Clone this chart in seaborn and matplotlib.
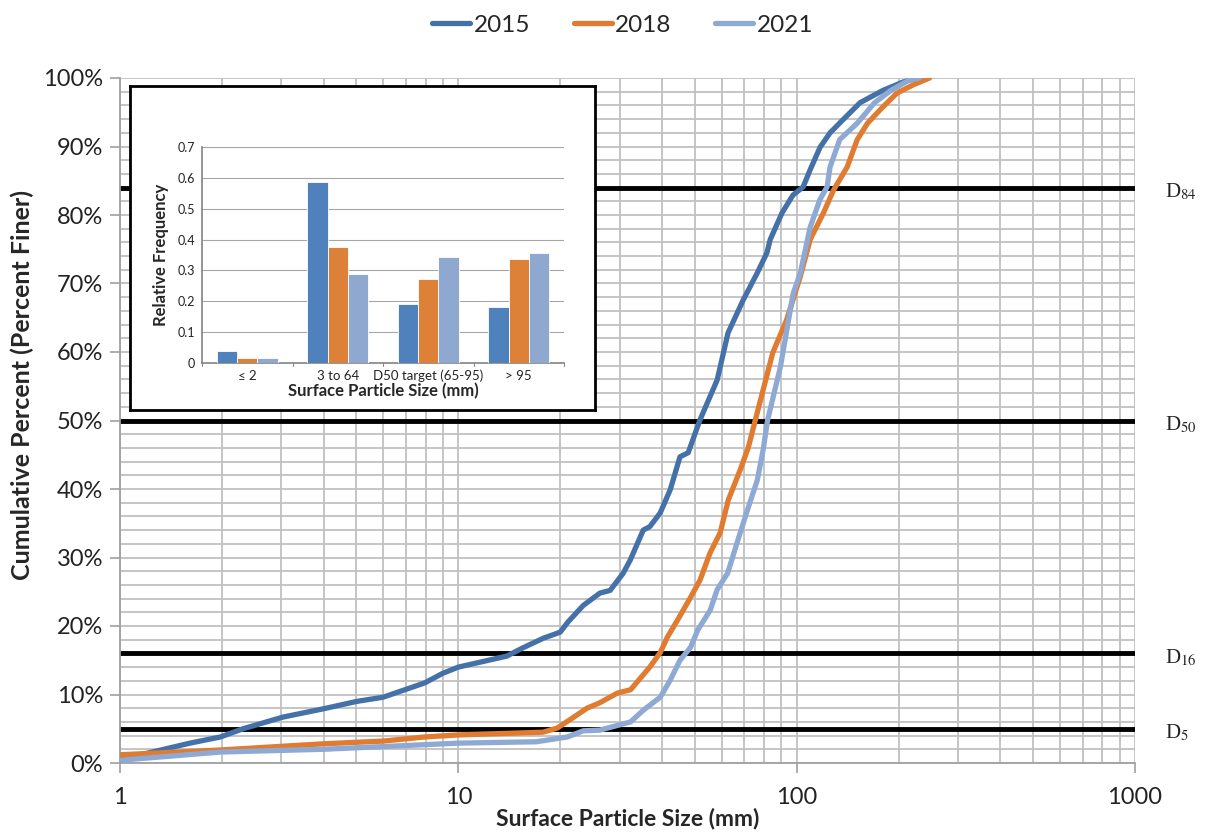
import numpy as np
import pandas as pd
import matplotlib
matplotlib.use('Agg')
import matplotlib.pyplot as plt
from matplotlib.ticker import FixedLocator, PercentFormatter, NullFormatter
import seaborn as sns

# cumulative curves (size in mm, percent finer)
size_2015 = [1.0, 1.15, 1.61, 1.98, 2.31, 3.03, 3.98, 5.02, 5.99, 7.05, 7.96, 9.0, 10.0,
             13.9, 15.5, 17.8, 20.0, 21.1, 23.4, 26.2, 28.1, 30.7, 32.2, 35.2, 36.8, 39.5,
             42.3, 45.2, 47.8, 51.8, 58.2, 62.7, 69.5, 76.4, 81.7, 83.5, 90.5, 97.5, 104.5,
             109.6, 117.3, 125.5, 137, 154, 180, 206, 227]
pct_2015 = [0.4, 1.2, 2.9, 3.8, 5.0, 6.7, 7.9, 9.0, 9.6, 10.8, 11.7, 13.1, 14.0,
            15.6, 16.8, 18.2, 19.1, 20.6, 23.0, 24.8, 25.2, 27.7, 29.6, 34.0, 34.5, 36.5,
            39.9, 44.7, 45.3, 50.1, 55.9, 62.8, 67.6, 71.5, 74.5, 76.4, 80.3, 82.9, 84.1,
            86.6, 89.9, 92.0, 93.9, 96.4, 98.2, 99.4, 100]

size_2018 = [1.0, 1.98, 3.98, 6.0, 7.96, 10.0, 17.8, 19.6, 21.8, 24.0, 26.2, 29.5, 32.3,
             36.8, 39.5, 41.5, 44.5, 48.6, 51.8, 55.5, 59.4, 62.8, 68.1, 72.0, 75.5, 85.0,
             93.4, 102.5, 109.6, 120, 128.4, 141, 151, 162, 180, 198, 221, 247]
pct_2018 = [1.2, 1.9, 2.8, 3.2, 3.8, 4.1, 4.5, 5.1, 6.6, 8.0, 8.8, 10.2, 10.7,
            14.0, 16.1, 18.4, 20.9, 24.2, 26.7, 30.7, 33.6, 38.4, 42.8, 46.1, 50.1, 59.9,
            64.7, 71.0, 76.4, 80.3, 83.6, 87.0, 91.0, 93.4, 95.8, 97.8, 99.0, 100]

size_2021 = [1.0, 1.98, 3.98, 6.0, 10.0, 17.0, 21.0, 23.4, 26.2, 28.1, 32.3, 35.2, 39.5,
             42.3, 45.2, 48.6, 51.0, 55.5, 58.2, 62.5, 66.6, 71.5, 76.5, 79.6, 82.0, 89.5,
             97.7, 102.5, 109.6, 117, 123, 125.5, 134, 151, 170, 190, 215, 231]
pct_2021 = [0.4, 1.6, 2.0, 2.4, 2.9, 3.1, 3.8, 4.7, 4.8, 5.2, 6.0, 7.7, 9.6,
            12.1, 15.0, 16.9, 19.4, 22.3, 25.3, 27.7, 32.1, 36.9, 41.3, 45.7, 50.0, 57.8,
            68.6, 71.5, 78.2, 82.2, 84.1, 87.0, 91.0, 93.4, 96.4, 98.2, 99.7, 100]

d_levels = [5, 16, 50, 84]
d_names = ['5', '16', '50', '84']

# inset bar data
bins = ['≤ 2', '3 to 64', 'D50 target (65-95)', '> 95']
freq_2015 = [0.040, 0.588, 0.190, 0.181]
freq_2018 = [0.017, 0.375, 0.271, 0.336]
freq_2021 = [0.015, 0.288, 0.342, 0.355]

years = ['2015', '2018', '2021']
line_cols = ['#4472A8', '#E07B30', '#8EA9D4']
bar_cols = ['#4F81BD', '#DD8038', '#8FA8CF']

sns.set_theme(style='white')
plt.rcParams['font.family'] = ['Lato', 'DejaVu Sans']
plt.rcParams['mathtext.fontset'] = 'stix'

curves = pd.concat([
    pd.DataFrame({'size': size_2015, 'pct': pct_2015, 'year': '2015'}),
    pd.DataFrame({'size': size_2018, 'pct': pct_2018, 'year': '2018'}),
    pd.DataFrame({'size': size_2021, 'pct': pct_2021, 'year': '2021'}),
])

fig = plt.figure(figsize=(12.07, 8.35), dpi=100)
ax = fig.add_axes([120/1207, 72/835, 1015/1207, 685/835])

ax.set_xscale('log')
ax.set_xlim(1, 1000)
ax.set_ylim(0, 100)

# grid
ax.yaxis.set_major_locator(FixedLocator(np.arange(0, 101, 10)))
ax.yaxis.set_minor_locator(FixedLocator(np.arange(0, 101, 2)))
ax.xaxis.set_minor_formatter(NullFormatter())
ax.grid(True, which='both', color='#C0C0C0', linewidth=1.3, zorder=0)
ax.set_axisbelow(True)

for yv in d_levels:
    ax.axhline(yv, color='black', linewidth=3.5, zorder=2)

sns.lineplot(data=curves, x='size', y='pct', hue='year', palette=line_cols,
             linewidth=3.8, ax=ax, sort=False, estimator=None, zorder=3)

for yv, nm in zip(d_levels, d_names):
    ax.text(1.03, yv - 0.6, r'D$_{%s}$' % nm, transform=ax.get_yaxis_transform(),
            fontsize=15, family='Liberation Serif', va='center', ha='left', color='#222222')

ax.yaxis.set_major_formatter(PercentFormatter(decimals=0))
ax.set_xticks([1, 10, 100, 1000])
ax.set_xticklabels(['1', '10', '100', '1000'])
ax.tick_params(axis='both', which='major', labelsize=17, colors='#222222',
               length=7, width=1.2, direction='out', left=True, bottom=True)
ax.tick_params(axis='x', which='major', color='#A0A0A0', pad=10)
ax.tick_params(axis='y', which='major', color='#A0A0A0', pad=5)
ax.tick_params(which='minor', length=0)
for side in ['left', 'bottom']:
    ax.spines[side].set_color('#A0A0A0')
    ax.spines[side].set_linewidth(1.3)
for side in ['top', 'right']:
    ax.spines[side].set_visible(False)

ax.set_xlabel('Surface Particle Size (mm)', fontsize=16.5, fontweight='bold', labelpad=0)
ax.set_ylabel('Cumulative Percent (Percent Finer)', fontsize=18, fontweight='bold')
ax.yaxis.set_label_coords(-0.085, 0.552)

handles, labels = ax.get_legend_handles_labels()
ax.legend(handles, labels, loc='upper center', bbox_to_anchor=(0.516, 1.0),
          bbox_transform=fig.transFigure, ncol=3, frameon=False, fontsize=17.5,
          handlelength=1.55, handletextpad=0.15, columnspacing=1.8, borderaxespad=0.2)

# inset frame
frame = fig.add_axes([130/1207, (835-410)/835, 465/1207, 324/835])
frame.set_facecolor('white')
frame.set_xticks([])
frame.set_yticks([])
for s in frame.spines.values():
    s.set_color('black')
    s.set_linewidth(2)
frame.set_zorder(5)

bars = pd.DataFrame({
    'bin': bins * 3,
    'freq': freq_2015 + freq_2018 + freq_2021,
    'year': ['2015'] * 4 + ['2018'] * 4 + ['2021'] * 4,
})
ins = fig.add_axes([202/1207, (835-363)/835, 362/1207, 216/835])
ins.set_zorder(6)
sns.barplot(data=bars, x='bin', y='freq', hue='year', palette=bar_cols, ax=ins,
            width=0.67, saturation=1, edgecolor='white', linewidth=0.6, legend=False, zorder=3)
ins.set_ylim(0, 0.7)
ins.set_yticks(np.arange(0, 0.71, 0.1))
ins.set_yticklabels(['0', '0.1', '0.2', '0.3', '0.4', '0.5', '0.6', '0.7'])
ins.yaxis.grid(True, color='#A6A6A6', linewidth=0.8)
ins.set_axisbelow(True)
ins.set_xlim(-0.5, 3.5)
ins.tick_params(axis='y', labelsize=9, length=0, pad=5, colors='#222222')
ins.tick_params(axis='x', labelsize=9.5, length=0, pad=5, colors='#222222')
for xb in [-0.5, 0.5, 1.5, 2.5, 3.5]:
    ins.plot([xb, xb], [0, -0.01], color='#888888', linewidth=0.8, clip_on=False)
ins.spines['left'].set_color('#888888')
ins.spines['bottom'].set_color('#888888')
for s in ['top', 'right']:
    ins.spines[s].set_visible(False)
ins.set_xlabel('Surface Particle Size (mm)', fontsize=12, fontweight='bold', labelpad=0)
ins.set_ylabel('Relative Frequency', fontsize=12, fontweight='bold', labelpad=6)

fig.savefig('out.png', dpi=100)
